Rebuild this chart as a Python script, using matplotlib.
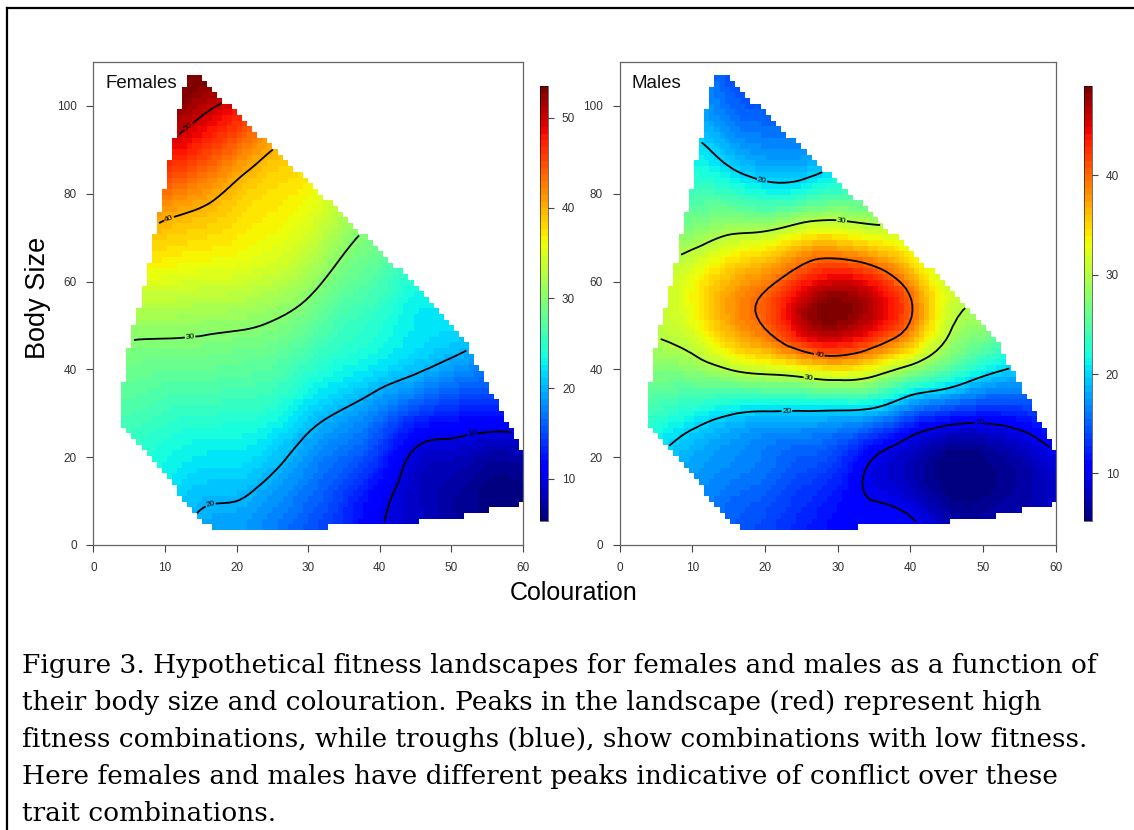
"""
Fitness landscapes (females / males) over colouration and body size.
"""
import numpy as np
import matplotlib
matplotlib.use("Agg")
import matplotlib.pyplot as plt
import matplotlib.tri as mtri
from matplotlib.path import Path
from matplotlib.lines import Line2D

plt.rcParams['font.family'] = ['Liberation Sans', 'DejaVu Sans']

colouration = [0, 5, 10, 15, 20, 25, 30, 35, 40, 45, 50, 55, 60]
body_size = [0, 10, 20, 30, 40, 50, 60, 70, 80, 90, 100, 110]

# fitness, one row per body size (0 -> 110), one column per colouration (0 -> 60)
female_fitness = [
    [22.0, 21.5, 20.5, 19.0, 18.5, 17.0, 15.0, 13.0, 10.5, 8.3, 7.3, 6.5, 6.2],
    [23.5, 23.0, 22.0, 20.3, 20.0, 18.5, 16.5, 14.0, 10.8, 8.5, 7.0, 5.8, 5.8],
    [25.0, 24.5, 23.5, 22.5, 22.3, 21.0, 18.5, 16.5, 13.7, 9.3, 8.5, 7.3, 7.5],
    [26.5, 26.5, 25.5, 25.0, 24.8, 24.0, 21.5, 19.6, 17.3, 14.5, 13.0, 12.5, 12.5],
    [28.5, 28.5, 28.0, 28.0, 27.5, 27.0, 25.0, 23.3, 22.0, 20.5, 18.8, 17.5, 17.5],
    [31.0, 31.0, 31.0, 30.7, 30.4, 29.7, 28.0, 25.8, 24.3, 22.5, 22.0, 21.0, 21.0],
    [34.0, 35.0, 35.0, 34.5, 34.2, 33.2, 31.3, 28.3, 26.5, 24.0, 23.5, 22.5, 22.0],
    [39.0, 39.5, 38.5, 37.8, 37.0, 36.0, 34.2, 31.0, 29.0, 27.5, 25.0, 24.0, 23.0],
    [44.0, 45.0, 43.0, 41.3, 39.0, 37.5, 36.3, 33.5, 31.0, 29.5, 27.0, 26.0, 25.0],
    [50.0, 50.0, 49.0, 46.5, 43.3, 40.0, 38.5, 36.0, 33.0, 31.5, 29.0, 28.0, 27.0],
    [55.0, 55.0, 54.0, 51.0, 48.5, 44.0, 41.0, 38.5, 35.0, 33.5, 31.0, 30.0, 29.0],
    [60.0, 60.0, 59.0, 55.0, 54.0, 48.5, 44.0, 41.0, 37.0, 35.5, 33.0, 32.0, 31.0],
]

male_fitness = [
    [18.0, 17.0, 16.0, 14.5, 13.5, 12.0, 11.0, 11.8, 12.0, 8.0, 7.5, 8.0, 9.0],
    [19.0, 18.0, 17.0, 15.5, 14.5, 13.0, 11.5, 10.0, 8.8, 6.2, 6.0, 7.0, 8.5],
    [21.5, 20.0, 18.2, 17.0, 16.0, 14.8, 13.5, 10.0, 7.8, 5.6, 5.8, 7.3, 9.5],
    [24.5, 23.5, 21.8, 20.3, 19.6, 19.5, 19.3, 18.5, 15.0, 13.0, 12.0, 12.5, 14.5],
    [27.5, 27.5, 28.0, 30.0, 31.5, 33.0, 34.5, 32.5, 28.5, 25.0, 21.5, 19.5, 19.5],
    [29.5, 30.5, 32.5, 37.0, 40.3, 46.0, 48.0, 45.0, 39.5, 31.0, 28.0, 25.0, 24.0],
    [29.5, 30.5, 33.0, 36.5, 39.0, 43.0, 45.5, 43.5, 38.0, 31.5, 30.0, 28.0, 27.0],
    [27.5, 28.5, 28.5, 30.5, 31.5, 34.0, 34.5, 33.0, 31.0, 28.0, 28.0, 27.0, 26.0],
    [24.0, 24.0, 24.0, 23.5, 22.0, 22.5, 24.0, 24.0, 24.0, 23.0, 23.0, 23.0, 23.0],
    [20.5, 20.0, 20.8, 18.5, 17.0, 17.0, 18.0, 18.0, 18.0, 18.0, 18.0, 18.0, 18.0],
    [18.0, 17.0, 18.0, 15.5, 14.5, 14.0, 15.0, 15.0, 15.0, 15.0, 15.0, 15.0, 15.0],
    [16.0, 15.0, 16.0, 14.0, 13.0, 12.0, 13.0, 13.0, 13.0, 13.0, 13.0, 13.0, 13.0],
]

# outline of the observed trait combinations (same for both sexes)
hull_x = [13.3, 14.6, 47.0, 52.0, 60.2, 60.2, 58.5, 54.0, 50.0, 43.0, 33.2, 32.8,
          17.5, 15.0, 6.0, 3.9, 3.9, 5.0, 6.5, 8.2, 10.3, 12.5]
hull_y = [107.0, 107.0, 56.0, 46.0, 21.0, 10.0, 8.7, 7.5, 6.0, 5.0, 5.0, 3.4,
          3.4, 5.5, 24.0, 27.5, 34.0, 45.0, 55.0, 68.0, 85.0, 103.6]

female_range = (5.3, 53.5)
male_range = (5.2, 49.0)
contour_levels = [10, 20, 30, 40, 50]

female_labels = [(13.2, 95.5), (10.5, 74.5), (13.5, 47.4), (16.5, 8.2), (53.0, 24.6)]
male_labels = [(19.6, 83.1), (30.5, 73.3), (27.5, 43.7), (26.0, 37.6),
               (23.0, 31.0), (49.5, 27.1)]

cmap = plt.get_cmap('jet', 64)
hull = Path(np.column_stack([hull_x, hull_y]))

fig = plt.figure(figsize=(11.34, 8.30), dpi=100)
ax1 = fig.add_axes([0.0824, 0.3434, 0.3787, 0.5819])
ax2 = fig.add_axes([0.5463, 0.3434, 0.3849, 0.5819])
cax1 = fig.add_axes([0.4762, 0.3723, 0.0071, 0.5241])
cax2 = fig.add_axes([0.9559, 0.3723, 0.0071, 0.5241])


def draw_panel(ax, cax, fitness, zlim, title, label_pos, cticks):
    X, Y = np.meshgrid(colouration, body_size)
    triang = mtri.Triangulation(X.ravel().astype(float), Y.ravel().astype(float))
    interp = mtri.CubicTriInterpolator(triang, np.asarray(fitness, float).ravel(),
                                       kind='min_E')

    # 80 x 80 image cells over the data range, like the original
    xe = np.linspace(3.9, 60.2, 81)
    ye = np.linspace(3.4, 107.0, 81)
    xc = 0.5 * (xe[:-1] + xe[1:])
    yc = 0.5 * (ye[:-1] + ye[1:])
    XC, YC = np.meshgrid(xc, yc)
    zc = interp(XC, YC)
    inside = hull.contains_points(np.column_stack([XC.ravel(), YC.ravel()]))
    inside = inside.reshape(XC.shape)
    zc = np.ma.masked_where(~inside | np.ma.getmaskarray(zc), zc)

    mesh = ax.pcolormesh(xe, ye, zc, cmap=cmap, vmin=zlim[0], vmax=zlim[1],
                         shading='flat', rasterized=True)
    cs = ax.contour(XC, YC, zc, levels=contour_levels, colors='black', linewidths=1.3)
    ax.clabel(cs, fmt='%d', fontsize=6, manual=label_pos, inline_spacing=1)

    ax.set_xlim(0, 60)
    ax.set_ylim(0, 110)
    ax.set_xticks(range(0, 61, 10))
    ax.set_yticks(range(0, 101, 20))
    ax.tick_params(direction='out', length=5, width=0.8, labelsize=8.5,
                   colors='#444444', labelcolor='#333333', pad=7)
    for sp in ax.spines.values():
        sp.set_color('#666666')
        sp.set_linewidth(0.9)
    ax.text(1.7, 105, title, fontsize=13.5, va='center', ha='left', color='#111111')

    cb = fig.colorbar(mesh, cax=cax, ticks=cticks)
    cb.outline.set_linewidth(0.4)
    cax.tick_params(length=4, width=0.8, labelsize=8.5, colors='#444444',
                    labelcolor='#333333', pad=6)


draw_panel(ax1, cax1, female_fitness, female_range, 'Females', female_labels,
           [10, 20, 30, 40, 50])
draw_panel(ax2, cax2, male_fitness, male_range, 'Males', male_labels,
           [10, 20, 30, 40])

fig.text(38 / 1134, 1 - 298 / 830, 'Body Size', rotation=90, fontsize=19.5,
         ha='center', va='center')
fig.text(574 / 1134, 1 - 593 / 830, 'Colouration', fontsize=18,
         ha='center', va='center')

# frame round the figure (only top and left visible)
fig.add_artist(Line2D([7 / 1134, 7 / 1134], [0, 1 - 8 / 830], color='black',
                      lw=1.6, transform=fig.transFigure))
fig.add_artist(Line2D([7 / 1134, 1], [1 - 8 / 830, 1 - 8 / 830], color='black',
                      lw=1.6, transform=fig.transFigure))

caption = [
    "Figure 3. Hypothetical fitness landscapes for females and males as a function of",
    "their body size and colouration. Peaks in the landscape (red) represent high",
    "fitness combinations, while troughs (blue), show combinations with low fitness.",
    "Here females and males have different peaks indicative of conflict over these",
    "trait combinations.",
]
for i, line in enumerate(caption):
    fig.text(22 / 1134, 1 - (673 + 37 * i) / 830, line, fontsize=19.0,
             family=['DejaVu Serif'], va='baseline', ha='left')

fig.savefig('out.png', dpi=100)
